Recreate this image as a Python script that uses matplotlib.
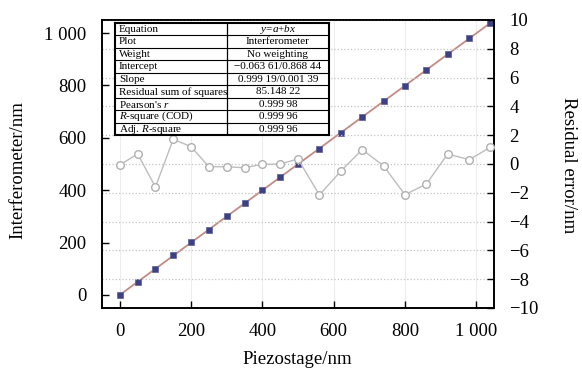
import matplotlib
matplotlib.use("Agg")
import matplotlib.pyplot as plt
import numpy as np

plt.rcParams['font.family'] = ['Liberation Serif', 'DejaVu Serif']
plt.rcParams['mathtext.fontset'] = 'custom'
plt.rcParams['mathtext.rm'] = 'Liberation Serif'
plt.rcParams['mathtext.it'] = 'Liberation Serif:italic'

# data
piezo = [0, 50, 100, 150, 200, 250, 300, 350, 400, 450,
         500, 560, 620, 680, 740, 800, 860, 920, 980, 1040]
interferometer = [-0.13, 50.60, 98.26, 151.54, 200.97, 249.54, 299.50, 349.39, 399.59, 449.57,
                  499.88, 557.33, 618.93, 680.39, 739.22, 797.16, 857.84, 919.89, 979.44, 1040.25]
residual = [-0.07, 0.70, -1.60, 1.72, 1.20, -0.19, -0.19, -0.26, -0.02, 0.00,
            0.35, -2.15, -0.50, 1.00, -0.12, -2.13, -1.40, 0.70, 0.30, 1.16]

x_ticks = [0, 200, 400, 600, 800, 1000]
x_tick_labels = ["0", "200", "400", "600", "800", "1 000"]
y_ticks = [0, 200, 400, 600, 800, 1000]
y_tick_labels = ["0", "200", "400", "600", "800", "1 000"]
r_ticks = [-10, -8, -6, -4, -2, 0, 2, 4, 6, 8, 10]
r_tick_labels = ["\u221210", "\u22128", "\u22126", "\u22124", "\u22122", "0", "2", "4", "6", "8", "10"]

table_labels = ["Equation", "Plot", "Weight", "Intercept", "Slope",
                "Residual sum of squares", "Pearson's $r$", "$R$-square (COD)", "Adj. $R$-square"]
table_values = ["$y$=$a$+$bx$", "Interferometer", "No weighting", "\u22120.063 61/0.868 44",
                "0.999 19/0.001 39", "85.148 22", "0.999 98", "0.999 96", "0.999 96"]

W, H = 582, 372
fig = plt.figure(figsize=(W / 100, H / 100), dpi=100)
ax = fig.add_axes([102 / W, 1 - 308 / H, 392 / W, 288 / H])
ax2 = ax.twinx()

# linear fit and data
b, a = np.polyfit(piezo, interferometer, 1)
xf = np.array([min(piezo), max(piezo)])
ax.plot(xf, a + b * xf, color='#c48a84', lw=1.3, zorder=2)
ax.plot(piezo, interferometer, 's', color='#3d4183', mec='#5a5e9c', mew=0.5, ms=4.6, zorder=3)

ax2.plot(piezo, residual, '-o', color='#bdbdbd', lw=1.0, mfc='white', mec='#b0b0b0',
         mew=1.0, ms=5.5, zorder=3)

ax.set_xlim(-50, 1050)
ax.set_ylim(-50, 1050)
ax2.set_ylim(-10, 10)

ax.set_xticks(x_ticks)
ax.set_xticklabels(x_tick_labels)
ax.set_yticks(y_ticks)
ax.set_yticklabels(y_tick_labels)
ax2.set_yticks(r_ticks)
ax2.set_yticklabels(r_tick_labels)

for a_ in (ax, ax2):
    a_.tick_params(direction='in', length=5, width=1.0, labelsize=13.5, pad=11)
    for s in a_.spines.values():
        s.set_linewidth(1.2)

ax.xaxis.grid(True, color='#ededed', lw=0.8)
ax2.yaxis.grid(True, color='#c4c4c4', lw=0.9, linestyle=':')
ax.set_axisbelow(True)

fig.text(18 / W, 1 - 170 / H, "Interferometer/nm", rotation=90, ha='center', va='center', fontsize=13.5)
fig.text(568 / W, 1 - 165 / H, "Residual error/nm", rotation=270, ha='center', va='center', fontsize=13.5)
fig.text(297 / W, 1 - 360 / H, "Piezostage/nm", ha='center', va='center', fontsize=13.5)

# statistics table
tx0, tx1, ty0, ty1 = 115, 329, 23, 135
tab = fig.add_axes([tx0 / W, 1 - ty1 / H, (tx1 - tx0) / W, (ty1 - ty0) / H])
tab.set_xlim(0, tx1 - tx0)
tab.set_ylim(len(table_labels), 0)
tab.set_facecolor('white')
tab.set_xticks([])
tab.set_yticks([])
for s in tab.spines.values():
    s.set_linewidth(1.5)
col = 226.7 - tx0
tab.axvline(col, color='black', lw=0.9)
for i in range(1, len(table_labels)):
    tab.axhline(i, color='black', lw=0.8)
for i, (lab, val) in enumerate(zip(table_labels, table_values)):
    tab.text(4, i + 0.52, lab, ha='left', va='center', fontsize=8)
    tab.text((col + tx1 - tx0) / 2, i + 0.52, val, ha='center', va='center', fontsize=8)

fig.savefig("out.png", dpi=100)
